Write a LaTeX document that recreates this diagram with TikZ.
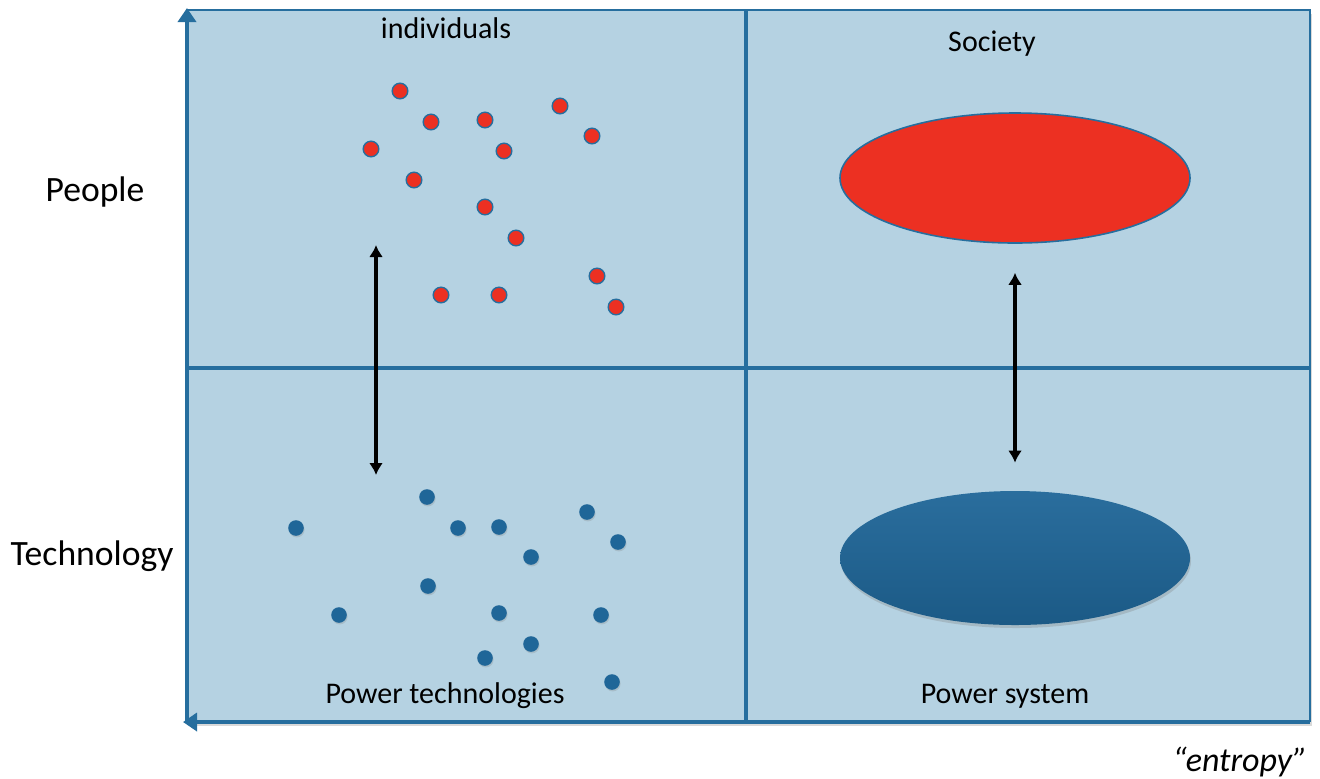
\documentclass[tikz,border=0pt]{standalone}
\usepackage{fontspec}
\setmainfont{Carlito}
\usetikzlibrary{arrows.meta,shapes.geometric,shadows}

\definecolor{panel}{RGB}{181,210,226}
\definecolor{axiscol}{RGB}{38,110,158}
\definecolor{redcol}{RGB}{236,48,34}
\definecolor{bluecol}{RGB}{31,102,152}

\tikzset{
    axisline/.style={draw=axiscol, line width=2pt},
    frameline/.style={draw=axiscol, line width=1.4pt},
    axisarrow/.style={axisline, -{Triangle[width=9pt,length=7pt]}},
    linkarrow/.style={line width=1.6pt, {Latex[width=7pt,length=6pt]}-{Latex[width=7pt,length=6pt]}},
    reddot/.style={circle, fill=redcol, draw=axiscol, line width=0.7pt,
        minimum size=7.8pt, inner sep=0pt},
    bluedot/.style={circle, fill=bluecol, minimum size=7.8pt, inner sep=0pt,
        drop shadow={opacity=0.25, shadow xshift=0.4pt, shadow yshift=-0.8pt}},
    sidelabel/.style={font=\fontsize{17.8}{20}\selectfont},
    celllabel/.style={font=\fontsize{15}{18}\selectfont}
}

\begin{document}
\begin{tikzpicture}[x=0.5pt, y=-0.5pt]
\useasboundingbox (0,0) rectangle (1320,778);

% corners of the grid
\coordinate (origin) at (187,722);
\coordinate (ytip) at (187,8);
\coordinate (xend) at (1310,722);
\coordinate (topright) at (1310,10);
\coordinate (midtop) at (746,10);
\coordinate (midbot) at (746,722);
\coordinate (midleft) at (187,368);
\coordinate (midright) at (1310,368);

% panel
\fill[panel, drop shadow={opacity=0.3, shadow xshift=1pt, shadow yshift=-2pt}]
    (187,10) rectangle (1310,722);
\draw[frameline] (ytip |- topright) -- (topright) -- (xend);
\draw[axisline] (midtop) -- (midbot);
\draw[axisline] (midleft) -- (midright);
\draw[axisarrow] (origin) -- (ytip);
\draw[axisarrow] (xend) -- ([xshift=-2pt]origin);

% labels
\node[sidelabel] (people) at (95,192) {People};
\node[sidelabel] (technology) at (92,556) {Technology};
\node[celllabel] (individuals) at (446,28) {individuals};
\node[celllabel] (society) at (992,44) {Society};
\node[celllabel] (powertech) at (445,696) {Power technologies};
\node[celllabel] (powersystem) at (1005,696) {Power system};
\node[font=\fontsize{17}{20}\selectfont\itshape] (entropy) at (1240,762) {“entropy”};

% individuals
\foreach \x/\y [count=\i] in {400/91, 431/122, 485/120, 560/106, 592/136, 371/149, 504/151,
    414/180, 485/207, 516/238, 597/276, 441/295, 499/295, 616/307}
    \node[reddot] (r\i) at (\x,\y) {};

% power technologies
\foreach \x/\y [count=\i] in {427/497, 296/528, 458/528, 499/527, 587/512, 618/542, 531/557,
    428/586, 339/615, 499/613, 601/615, 531/644, 485/658, 612/682}
    \node[bluedot] (b\i) at (\x,\y) {};

% society and power system
\node[ellipse, fill=redcol, draw=axiscol, line width=0.8pt,
    minimum width=175pt, minimum height=65pt] (redblob) at (1015,178) {};
\node[ellipse, top color=bluecol!95!white, bottom color=bluecol!88!black,
    minimum width=175pt, minimum height=67pt,
    drop shadow={opacity=0.3, shadow xshift=0.5pt, shadow yshift=-1.5pt}] (blueblob) at (1015,558) {};

% links
\coordinate (linktop) at (376,245);
\coordinate (linkbot) at (376,475);
\draw[linkarrow] (linktop) -- (linkbot);
\draw[linkarrow, shorten <=14.5pt, shorten >=14pt] (redblob.south) -- (blueblob.north);
\end{tikzpicture}
\end{document}
